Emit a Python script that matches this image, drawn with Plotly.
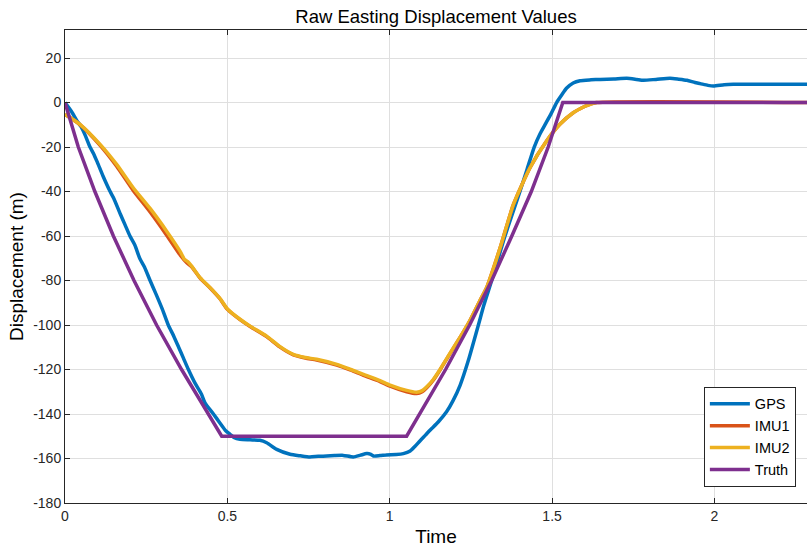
import plotly.graph_objects as go

# ---- data ----
gps_t = [0.000, 0.020, 0.036, 0.050, 0.063, 0.077, 0.088, 0.100, 0.117, 0.139, 0.150, 0.170,
         0.185, 0.200, 0.215, 0.230, 0.245, 0.262, 0.280, 0.300, 0.318, 0.335, 0.350, 0.365,
         0.380, 0.400, 0.420, 0.431, 0.457, 0.477, 0.495, 0.508, 0.520, 0.539, 0.570, 0.600,
         0.621, 0.652, 0.693, 0.725, 0.754, 0.780, 0.806, 0.830, 0.857, 0.888, 0.910, 0.929,
         0.940, 0.950, 0.970, 0.990, 1.020, 1.042, 1.063, 1.078, 1.093, 1.110, 1.124, 1.150,
         1.175, 1.195, 1.217, 1.242, 1.273, 1.290, 1.314, 1.355, 1.401, 1.423, 1.445, 1.463,
         1.480, 1.497, 1.514, 1.530, 1.545, 1.565, 1.586, 1.620, 1.648, 1.690, 1.730, 1.760,
         1.781, 1.820, 1.863, 1.890, 1.915, 1.940, 1.956, 1.980, 1.997, 2.030, 2.058, 2.150, 2.290]
gps_v = [0.0, -4, -8, -11, -15, -20, -23, -27, -33, -40, -43, -50,
         -55, -60, -64, -70, -74, -80, -86, -93, -100, -105, -110, -115,
         -120, -126, -131, -135, -140, -144, -147.5, -149.1, -150.5, -151.4, -151.6, -151.8,
         -152.9, -155.9, -158.1, -158.8, -159.3, -159.0, -158.9, -158.7, -158.6, -159.3, -158.5, -157.8,
         -158.0, -158.9, -158.7, -158.4, -158.2, -157.8, -156.6, -154.5, -152.1, -149.5, -147.3, -143.5,
         -139, -134, -127, -116, -100, -91, -80, -60, -40, -30, -20, -14,
         -9.5, -5, 0, 3.5, 6.5, 8.8, 9.8, 10.2, 10.4, 10.6, 10.9, 10.4,
         10.0, 10.4, 10.9, 10.5, 10.0, 9.0, 8.5, 7.7, 7.4, 8.0, 8.2, 8.2, 8.2]

imu1_t = [0.000, 0.046, 0.108, 0.159, 0.210, 0.262, 0.313, 0.355, 0.375, 0.390, 0.416, 0.447,
          0.477, 0.501, 0.539, 0.570, 0.621, 0.660, 0.703, 0.740, 0.775, 0.837, 0.880, 0.919,
          0.970, 1.001, 1.052, 1.083, 1.100, 1.114, 1.134, 1.155, 1.180, 1.206, 1.227, 1.247,
          1.278, 1.299, 1.340, 1.381, 1.432, 1.483, 1.524, 1.565, 1.600, 1.617, 1.637, 2.290]
imu1_v = [-5.3, -9.9, -19.2, -28.6, -39.5, -49.2, -59.6, -68.6, -72.0, -73.8, -78.9, -83.4,
          -88.2, -93.1, -97.6, -100.7, -105.2, -109.7, -113.4, -114.8, -115.7, -118.0, -120.3, -122.6,
          -125.4, -127.5, -130.0, -130.8, -130.0, -128.2, -124.8, -120.2, -114.2, -108.1, -103.1, -98.0,
          -89.0, -83.0, -65.3, -45.8, -29.3, -17.3, -9.8, -4.6, -1.8, -0.8, 0.0, 0.0]

imu2_t = [0.000, 0.046, 0.108, 0.159, 0.210, 0.262, 0.313, 0.355, 0.368, 0.378, 0.390, 0.416,
          0.447, 0.477, 0.501, 0.539, 0.570, 0.621, 0.660, 0.703, 0.740, 0.775, 0.837, 0.880,
          0.919, 0.970, 1.001, 1.052, 1.083, 1.100, 1.114, 1.134, 1.155, 1.180, 1.206, 1.227,
          1.247, 1.278, 1.299, 1.340, 1.381, 1.432, 1.483, 1.524, 1.565, 1.600, 1.617, 1.637]
imu2_v = [-5.3, -9.8, -18.8, -27.8, -38.3, -47.6, -57.8, -67.0, -70.5, -71.5, -73.5, -78.7,
          -83.2, -88.0, -92.9, -97.4, -100.5, -105.0, -109.5, -113.2, -114.6, -115.4, -117.7, -120.0,
          -122.2, -125.0, -127.0, -129.4, -130.2, -129.5, -127.8, -124.5, -120.0, -114.0, -108.0, -103.0,
          -98.0, -89.0, -83.0, -65.3, -45.8, -29.3, -17.3, -9.8, -4.6, -1.8, -0.8, 0.0]

truth_t = [0.000, 0.041, 0.092, 0.149, 0.2125, 0.282, 0.359, 0.441, 0.4826,
           1.052, 1.093, 1.172, 1.246, 1.314, 1.376, 1.436, 1.488, 1.533, 2.290]
truth_v = [0, -20, -40, -60, -80, -100, -120, -140, -150,
           -150, -140, -120, -100, -80, -60, -40, -20, 0, 0]

x_ticks = [0, 0.5, 1, 1.5, 2]
x_labels = ["0", "0.5", "1", "1.5", "2"]
y_ticks = [20, 0, -20, -40, -60, -80, -100, -120, -140, -160, -180]
y_labels = ["20", "0", "-20", "-40", "-60", "-80", "-100", "-120", "-140", "-160", "-180"]

# ---- styling ----
FONT = "Liberation Sans, Arial, Helvetica, sans-serif"
AX = "#262626"
GRID = "#dfdfdf"
X_RANGE = [0, 2.285]
Y_RANGE = [-180, 32.6]
LW = 3.5

fig = go.Figure()
series = [
    ("GPS", gps_t, gps_v, "#0072BD", "spline"),
    ("IMU1", imu1_t, imu1_v, "#D95319", "spline"),
    ("IMU2", imu2_t, imu2_v, "#EDB120", "spline"),
    ("Truth", truth_t, truth_v, "#7E2F8E", "linear"),
]
for name, t, v, c, shape in series:
    line = dict(color=c, width=LW, shape=shape)
    if shape == "spline":
        line["smoothing"] = 0.6
    fig.add_trace(go.Scatter(x=t, y=v, mode="lines", name=name, line=line))

fig.update_layout(
    width=807, height=550,
    margin=dict(l=65, r=0, t=30, b=47),
    paper_bgcolor="white", plot_bgcolor="white",
    font=dict(family=FONT, size=14, color=AX),
    title=dict(text="Raw Easting Displacement Values", x=(65 + 807) / 2 / 807, xanchor="center",
               y=1 - 17 / 550, yanchor="middle",
               font=dict(family=FONT, size=18.5, color="#000000")),
    showlegend=True,
    legend=dict(x=0.985, y=0.034, xanchor="right", yanchor="bottom",
                bgcolor="white", bordercolor=AX, borderwidth=1,
                font=dict(family=FONT, size=14.5, color="#000000"),
                tracegroupgap=0, itemwidth=40),
    xaxis=dict(range=X_RANGE, tickvals=x_ticks, ticktext=x_labels,
               showgrid=True, gridcolor=GRID, gridwidth=1, zeroline=False,
               showline=True, linecolor=AX, linewidth=1, mirror="ticks",
               ticks="inside", ticklen=5, tickcolor=AX,
               tickfont=dict(family=FONT, size=14, color=AX),
               title=dict(text="Time", font=dict(family=FONT, size=19, color="#000000"), standoff=6)),
    yaxis=dict(range=Y_RANGE, tickvals=y_ticks, ticktext=y_labels,
               showgrid=True, gridcolor=GRID, gridwidth=1, zeroline=False,
               showline=True, linecolor=AX, linewidth=1, mirror=False,
               ticks="inside", ticklen=5, tickcolor=AX,
               tickfont=dict(family=FONT, size=14, color=AX),
               title=dict(text="Displacement (m)", font=dict(family=FONT, size=19, color="#000000"),
                          standoff=4)),
    yaxis2=dict(range=Y_RANGE, tickvals=y_ticks, overlaying="y", side="right",
                showgrid=False, zeroline=False, showline=False,
                ticks="inside", ticklen=5, tickcolor=AX, showticklabels=False),
)

fig.write_html("out.html")
